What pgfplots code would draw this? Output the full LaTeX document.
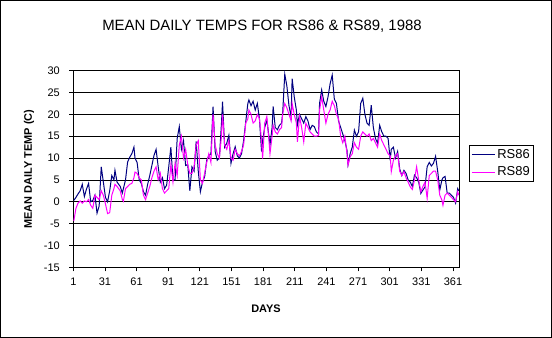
\documentclass[border=0pt]{standalone}
\usepackage{fontspec}
\setmainfont{Liberation Sans}
\usepackage{pgfplots}
\usepackage{pgfplotstable}
\pgfplotsset{compat=1.18}
\definecolor{navyb}{RGB}{0,0,128}
\definecolor{magp}{RGB}{255,0,255}

\pgfplotstableread{
day rsa rsb
1 0.3 -4.4
3 1.0 -1.5
5 1.8 -0.3
7 2.5 0.2
9 4.0 -0.3
11 1.2 0.2
13 2.9 0.0
15 4.2 0.5
17 0.0 -0.8
19 0.3 -1.5
21 1.5 1.5
23 -2.6 1.0
25 -1.0 0.5
27 8.0 2.5
29 4.5 1.5
31 1.0 -0.5
33 0.0 -2.7
35 2.5 -2.5
37 6.0 1.5
39 5.0 3.0
40 7.2 4.0
42 4.5 3.5
45 3.5 2.5
47 2.0 0.5
48 3.0 0.1
50 5.0 3.0
52 9.1 3.5
54 10.2 4.0
56 11.0 4.2
58 12.5 5.5
59 10.0 6.8
61 9.0 6.5
63 5.0 5.5
65 4.2 5.0
67 2.3 1.5
69 1.5 0.5
71 4.0 2.0
73 6.0 3.5
75 8.3 5.5
77 10.6 7.0
79 12.0 8.0
81 8.0 5.0
83 4.5 6.5
85 5.5 3.0
87 3.0 2.0
89 3.8 2.5
91 8.0 3.0
93 12.5 8.5
95 5.0 4.5
97 5.0 8.8
99 14.5 6.0
101 17.2 13.0
103 12.0 15.0
105 14.0 10.0
107 8.3 12.0
109 8.5 8.5
111 2.5 6.5
113 8.0 6.5
115 7.0 8.0
117 13.8 13.0
119 7.0 14.0
121 2.3 5.0
123 4.5 4.2
125 5.7 6.5
127 9.5 9.0
129 10.5 11.0
131 11.0 9.0
133 21.8 20.0
135 11.5 13.0
137 9.5 11.0
139 10.0 10.0
141 18.0 15.0
142 22.9 20.0
144 12.5 13.0
146 13.4 12.0
148 15.2 14.0
150 8.8 10.0
152 11.0 9.5
154 12.6 12.0
156 10.5 11.0
158 10.0 10.5
160 11.0 11.5
162 14.0 13.0
164 18.3 18.0
166 22.5 19.0
167 23.3 21.0
169 22.0 20.0
171 23.0 18.0
173 21.0 18.5
175 22.5 20.0
177 19.0 19.0
179 11.5 14.0
180 14.0 9.9
182 17.0 18.0
184 18.7 19.5
186 15.0 14.0
187 13.0 11.0
189 17.0 15.0
190 21.8 17.5
192 17.0 16.0
194 16.5 15.5
196 17.5 16.5
198 18.0 17.0
199 20.2 20.0
201 29.2 22.5
203 26.5 21.5
205 22.0 20.0
207 19.5 18.5
208 28.2 22.5
210 24.0 20.0
212 21.0 18.0
213 17.6 13.7
215 20.0 19.5
217 19.0 17.0
219 18.0 13.7
221 19.5 18.0
223 18.5 17.0
225 16.5 16.0
227 17.5 15.5
229 17.2 15.0
231 16.0 15.0
233 15.5 15.2
234 22.5 21.0
236 25.6 24.0
238 23.0 21.0
240 21.8 18.0
242 24.0 20.0
244 27.0 21.0
246 29.0 23.0
248 23.5 22.0
250 22.5 20.0
252 18.5 19.0
254 17.0 15.0
256 15.5 13.5
258 14.0 15.0
260 11.8 11.0
261 8.5 8.4
263 11.0 10.3
265 12.5 11.0
267 16.4 13.5
269 15.0 12.5
271 16.0 12.0
273 22.5 15.0
275 23.7 16.0
277 20.0 15.5
279 18.0 15.0
281 17.5 15.5
283 22.1 14.0
285 17.0 14.5
287 14.5 13.5
289 13.4 12.5
291 17.5 15.5
293 16.0 14.0
295 15.0 13.0
297 15.0 12.0
299 14.5 11.0
301 9.5 10.5
302 12.0 6.9
304 12.5 9.5
306 10.0 10.5
308 11.5 11.0
310 7.5 7.0
312 6.0 6.0
314 7.2 6.9
316 6.5 5.5
318 5.0 4.5
320 4.5 3.4
322 3.5 2.8
324 6.1 5.0
326 5.5 8.0
328 4.5 5.0
330 1.9 2.3
332 2.7 3.5
334 3.4 4.5
336 8.0 0.8
338 9.0 6.0
340 8.2 6.5
342 8.8 7.0
344 10.4 7.0
346 7.0 5.0
348 2.7 1.5
350 5.0 0.4
351 5.5 -0.8
353 5.8 1.5
355 2.0 2.0
357 2.0 1.5
359 1.5 1.0
361 1.0 0.5
363 -0.3 0.0
365 3.0 2.3
366 2.5 1.5
}\temps

\begin{document}
\begin{tikzpicture}
\path[use as bounding box] (0bp,0bp) rectangle (552bp,338bp);
\draw[black, line width=1bp] (0.5bp,0.5bp) rectangle (551.5bp,337.5bp);
\node[font=\fontsize{15}{18}\selectfont] at (262bp,312bp) {MEAN DAILY TEMPS FOR RS86 \& RS89, 1988};
\node[font=\bfseries\fontsize{11}{13}\selectfont] at (266bp,29bp) {DAYS};
\node[font=\bfseries\fontsize{11}{13}\selectfont, rotate=90] at (29bp,169bp) {MEAN DAILY TEMP (C)};
\begin{axis}[
  at={(73.3bp,70.7bp)}, anchor=south west,
  scale only axis, width=386bp, height=196.6bp,
  xmin=0.5, xmax=366.5, ymin=-15, ymax=30,
  ytick={-15,-10,...,30},
  xtick={0.5,30.5,...,360.5},
  xticklabels={1,31,61,91,121,151,181,211,241,271,301,331,361},
  xtick pos=bottom, ytick pos=left,
  ymajorgrids, grid style={black, line width=0.8bp},
  axis line style={black, line width=1bp},
  tick align=outside, major tick length=4bp,
  tick style={black, line width=0.8bp},
  tick label style={font=\fontsize{11}{13}\selectfont},
  yticklabel style={xshift=-6bp},
  xticklabel style={yshift=-3bp},
  /pgf/number format/assume math mode=true,
  legend style={at={(1.025,0.622)}, anchor=north west, draw=black, line width=0.8bp,
    font=\fontsize{13}{15}\selectfont, inner sep=2bp, row sep=3bp,
    cells={anchor=west}},
  legend image code/.code={\draw[#1] (0bp,0bp) -- (23bp,0bp);},
  legend cell align=left,
]
\addplot[navyb, line width=1bp] table[x=day, y=rsa] {\temps};
\addlegendentry{RS86}
\addplot[magp, line width=1bp] table[x=day, y=rsb] {\temps};
\addlegendentry{RS89}
\end{axis}
\end{tikzpicture}
\end{document}
